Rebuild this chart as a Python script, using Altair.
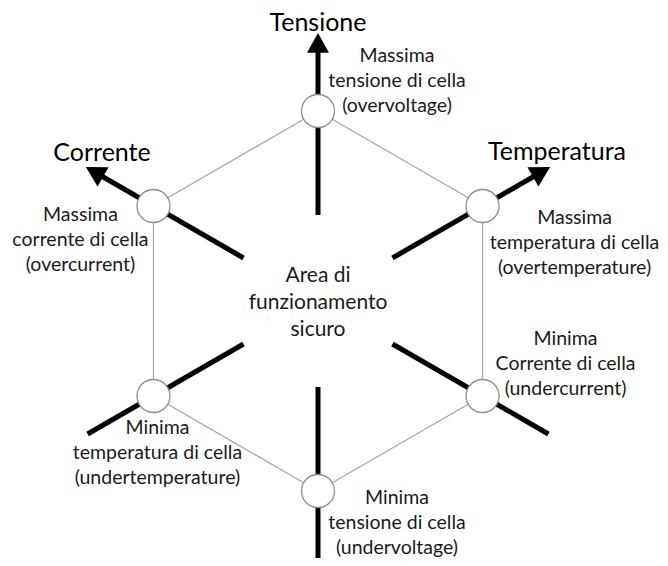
import math
import altair as alt
import pandas as pd

# ---- content ----
axis_names = ["Tensione", "Temperatura", "Corrente"]
axis_angles = [90, 30, 150]          # direction of the "Massima" end (degrees, math convention)

vertex_angles = [90, 30, 330, 270, 210, 150]
vertex_labels = [
    "Massima\ntensione di cella\n(overvoltage)",
    "Massima\ntemperatura di cella\n(overtemperature)",
    "Minima\nCorrente di cella\n(undercurrent)",
    "Minima\ntensione di cella\n(undervoltage)",
    "Minima\ntemperatura di cella\n(undertemperature)",
    "Massima\ncorrente di cella\n(overcurrent)",
]
center_label = "Area di\nfunzionamento\nsicuro"

# ---- layout ----
W, H = 652, 550
CX, CY = 310, 293
R = 190
AX_IN, AX_OUT, ARROW_AT = 86, 266, 257
LH, LH_C = 25, 27
label_offsets = [(79, -30), (92, 37), (83, -32), (79, 32), (4, 57), (-73, 34)]
title_offsets = [(0, -278), (239, -149), (-216, -148)]
FONT = "Lato"


def pt(a, r):
    return CX + r * math.cos(math.radians(a)), CY - r * math.sin(math.radians(a))


verts = [pt(a, R) for a in vertex_angles]
edges = pd.DataFrame([
    {"x": verts[i][0], "y": verts[i][1], "x2": verts[(i + 1) % 6][0], "y2": verts[(i + 1) % 6][1]}
    for i in range(6)
])
circles = pd.DataFrame([{"x": v[0], "y": v[1]} for v in verts])

segs = []
for a in axis_angles:
    for aa, outer in ((a, 250), (a + 180, AX_OUT)):
        x1, y1 = pt(aa, AX_IN)
        x2, y2 = pt(aa, outer)
        segs.append({"x": x1, "y": y1, "x2": x2, "y2": y2})
segs = pd.DataFrame(segs)

arrows = pd.DataFrame([
    {"x": pt(a, ARROW_AT)[0], "y": pt(a, ARROW_AT)[1], "rot": (90 - a) % 360}
    for a in axis_angles
])

labels = pd.DataFrame([
    {"x": verts[i][0] + label_offsets[i][0],
     "y": verts[i][1] + label_offsets[i][1] - LH,
     "t": vertex_labels[i]}
    for i in range(6)
])
titles = pd.DataFrame([
    {"x": CX + title_offsets[i][0], "y": CY + title_offsets[i][1], "t": axis_names[i]}
    for i in range(3)
])
centre = pd.DataFrame([{"x": CX, "y": CY + 2 - LH_C, "t": center_label}])

xs = alt.Scale(domain=[0, W], nice=False, zero=False)
ys = alt.Scale(domain=[0, H], nice=False, zero=False, reverse=True)
X = alt.X("x:Q", scale=xs, axis=None)
Y = alt.Y("y:Q", scale=ys, axis=None)

axis_layer = alt.Chart(segs).mark_rule(color="black", strokeWidth=5).encode(
    x=X, y=Y, x2="x2:Q", y2="y2:Q")
edge_layer = alt.Chart(edges).mark_rule(color="#a6a6a6", strokeWidth=1.2).encode(
    x=X, y=Y, x2="x2:Q", y2="y2:Q")
circle_layer = alt.Chart(circles).mark_point(
    shape="circle", filled=True, fill="white", stroke="#8c8c8c", strokeWidth=1.3,
    size=1089, opacity=1).encode(x=X, y=Y)
arrow_layer = alt.Chart(arrows).mark_point(
    shape="M0,-1L1,0.8L-1,0.8Z", filled=True, color="black", size=484, opacity=1
).encode(x=X, y=Y, angle=alt.Angle("rot:Q", scale=None))

label_layer = alt.Chart(labels).mark_text(
    font=FONT, fontSize=19.5, color="#1a1a1a", lineBreak="\n", lineHeight=LH,
    align="center", baseline="middle").encode(x=X, y=Y, text="t:N")
centre_layer = alt.Chart(centre).mark_text(
    font=FONT, fontSize=21, color="#1a1a1a", lineBreak="\n", lineHeight=LH_C,
    align="center", baseline="middle").encode(x=X, y=Y, text="t:N")
title_layer = alt.Chart(titles).mark_text(
    font=FONT, fontSize=25, color="black", align="center", baseline="middle"
).encode(x=X, y=Y, text="t:N")

chart = alt.layer(
    axis_layer, edge_layer, circle_layer, arrow_layer, label_layer, centre_layer, title_layer
).properties(width=W, height=H, padding=0, autosize=alt.AutoSizeParams(type="none")
).configure_view(stroke=None)

chart.save("out.html", embed_options={"renderer": "svg", "actions": False})
